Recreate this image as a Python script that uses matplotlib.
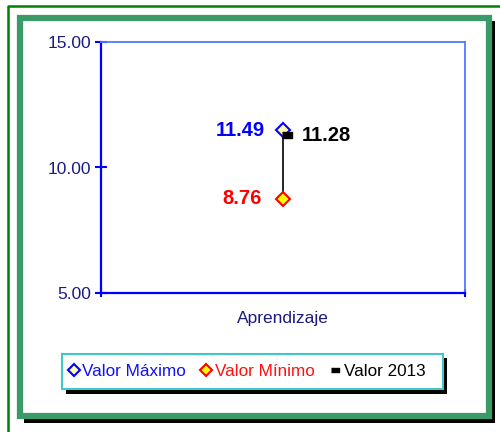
import numpy as np
import matplotlib
matplotlib.use("Agg")
import matplotlib.pyplot as plt
import matplotlib.transforms as mtransforms
from matplotlib.patches import Rectangle

plt.rcParams['font.family'] = ['Liberation Sans', 'DejaVu Sans']

# Datos
categorias = ['Aprendizaje']
valor_max = [11.49]
valor_min = [8.76]
valor_2013 = [11.28]
y_ticks = [5, 10, 15]

W, H = 500, 432
fig = plt.figure(figsize=(W / 100, H / 100), dpi=100)

# Fondo con marcos (coordenadas en pixeles)
bg = fig.add_axes([0, 0, 1, 1], zorder=0)
bg.set_xlim(0, W)
bg.set_ylim(H, 0)
bg.axis('off')
# marco fino verde exterior
bg.plot([7.5, 7.5, W + 5], [H + 5, 5.5, 5.5], color='#008000', lw=1.8)
# sombra y marco verde grueso
bg.add_patch(Rectangle((24, 21), 471, 402, facecolor='black', edgecolor='none'))
bg.add_patch(Rectangle((20, 18), 469, 398, facecolor='white',
                       edgecolor='#3A9A68', lw=4.5))
# caja de la leyenda con sombra
bg.add_patch(Rectangle((66, 358), 381, 36, facecolor='black', edgecolor='none'))
bg.add_patch(Rectangle((61.5, 353.5), 381, 35, facecolor='white',
                       edgecolor='#40C8C8', lw=1.5))

# Grafico principal
ax = fig.add_axes([101 / W, 1 - 293 / H, 364 / W, 251 / H], zorder=2)
ax.patch.set_alpha(0)
x = np.arange(len(categorias))

for i in range(len(categorias)):
    ax.plot([x[i], x[i]], [valor_min[i], valor_max[i]], color='black', lw=1.2, zorder=2)

l_max, = ax.plot(x, valor_max, linestyle='none', marker='D', markersize=7,
                 markerfacecolor='#FFFFB0', markeredgecolor='#0000FF',
                 markeredgewidth=1.5, zorder=4, label='Valor Máximo')
l_min, = ax.plot(x, valor_min, linestyle='none', marker='D', markersize=7,
                 markerfacecolor='#FFFF00', markeredgecolor='#FF0000',
                 markeredgewidth=1.5, zorder=4, label='Valor Mínimo')
rect = [(-1, -0.55), (1, -0.55), (1, 0.55), (-1, 0.55)]
shift = mtransforms.ScaledTranslation(4 / 100, 0, fig.dpi_scale_trans)
l_2013, = ax.plot(x, valor_2013, linestyle='none', marker=rect, markersize=7,
                  color='black', zorder=5, label='Valor 2013',
                  transform=ax.transData + shift)

for i in range(len(categorias)):
    ax.annotate(f'{valor_max[i]:.2f}', (x[i], valor_max[i]), xytext=(-13, 0),
                textcoords='offset points', ha='right', va='center',
                fontsize=14.5, fontweight='bold', color='#0000FF')
    ax.annotate(f'{valor_min[i]:.2f}', (x[i], valor_min[i]), xytext=(-15, 0),
                textcoords='offset points', ha='right', va='center',
                fontsize=14.5, fontweight='bold', color='#FF0000')
    ax.annotate(f'{valor_2013[i]:.2f}', (x[i], valor_2013[i]), xytext=(13.5, 0),
                textcoords='offset points', ha='left', va='center',
                fontsize=14.5, fontweight='bold', color='black')

ax.set_xlim(-0.5, len(categorias) - 0.5)
ax.set_ylim(5, 15)
ax.set_yticks(y_ticks)
ax.set_yticklabels([f'{v:.2f}' for v in y_ticks])
ax.set_xticks(np.arange(len(categorias) + 1) - 0.5)
ax.set_xticklabels([])
ax.set_xticks(x, minor=True)
ax.set_xticklabels(categorias, minor=True)

ax.tick_params(axis='y', direction='inout', length=8, width=1.5, color='#0000FF',
               labelcolor='#1A1A80', labelsize=12.5, pad=3)
ax.tick_params(axis='x', which='major', direction='inout', length=6, width=1.5,
               color='#0000FF')
ax.tick_params(axis='x', which='minor', length=0, labelcolor='#1A1A80',
               labelsize=12.5, pad=13)

for s in ['left', 'bottom']:
    ax.spines[s].set_color('#0000FF')
    ax.spines[s].set_linewidth(1.6)
for s in ['top', 'right']:
    ax.spines[s].set_color('#5577FF')
    ax.spines[s].set_linewidth(1.3)

leg = fig.legend(handles=[l_max, l_min, l_2013], loc='center',
                 bbox_to_anchor=(247 / W, 1 - 371 / H), ncol=3, frameon=False,
                 fontsize=12.3, handlelength=0.6, handletextpad=0.2,
                 columnspacing=0.9, borderpad=0,
                 labelcolor=['#1010FF', '#FF1010', 'black'])
for h in leg.legend_handles:
    h.set_markersize(6)

plt.savefig('out.png', dpi=100)
